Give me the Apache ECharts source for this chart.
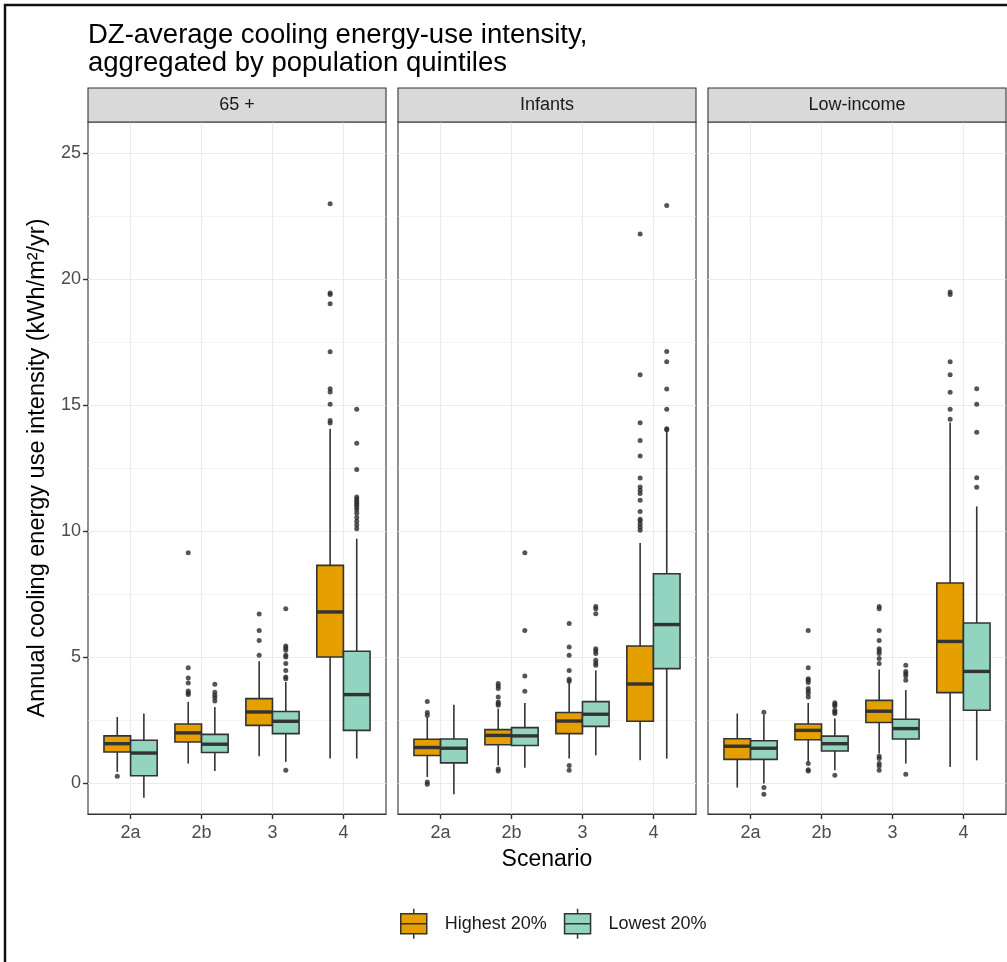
<!DOCTYPE html>
<html>
<head>
<meta charset="utf-8">
<script src="https://cdn.jsdelivr.net/npm/echarts@6/dist/echarts.min.js"></script>
<style>html,body{margin:0;padding:0;background:#fff;}#chart{width:1007px;height:962px;}</style>
</head>
<body>
<div id="chart"></div>
<script>
// ---------- DATA ----------
const categories = ['2a', '2b', '3', '4'];
const panels = ['65 +', 'Infants', 'Low-income'];
const groups = ['Highest 20%', 'Lowest 20%'];
const yTicks = [0, 5, 10, 15, 20, 25];
const xTicks = [1, 2, 3, 4];

// box stats per scenario: [lower whisker, Q1, median, Q3, upper whisker]
const age65High    = [[0.45, 1.24, 1.57, 1.88, 2.63], [0.78, 1.64, 2.00, 2.35, 3.23], [1.07, 2.30, 2.83, 3.36, 4.84], [0.98, 5.01, 6.80, 8.65, 14.07]];
const age65Low     = [[-0.57, 0.30, 1.20, 1.71, 2.77], [0.49, 1.22, 1.55, 1.94, 3.03], [0.85, 1.97, 2.46, 2.85, 4.02], [0.98, 2.10, 3.52, 5.24, 9.71]];
const infantsHigh  = [[0.25, 1.10, 1.42, 1.75, 2.63], [0.71, 1.53, 1.90, 2.13, 2.96], [0.98, 1.97, 2.47, 2.81, 4.02], [0.91, 2.46, 3.94, 5.45, 9.54]];
const infantsLow   = [[-0.44, 0.81, 1.39, 1.76, 3.12], [0.62, 1.50, 1.88, 2.21, 3.19], [1.11, 2.26, 2.74, 3.24, 4.48], [0.98, 4.55, 6.30, 8.32, 13.98]];
const lowIncHigh   = [[-0.17, 0.95, 1.47, 1.77, 2.77], [0.85, 1.73, 2.10, 2.35, 3.19], [1.18, 2.41, 2.86, 3.29, 4.52], [0.65, 3.60, 5.63, 7.95, 14.32]];
const lowIncLow    = [[-0.01, 0.95, 1.39, 1.69, 2.72], [0.52, 1.28, 1.57, 1.87, 2.57], [0.78, 1.76, 2.17, 2.54, 3.70], [0.91, 2.90, 4.44, 6.36, 10.99]];

// outliers per scenario
const age65HighOut   = [[0.28], [9.15, 4.59, 4.18, 3.98, 3.66, 3.58, 3.52], [6.72, 6.06, 5.67, 5.08], [23.0, 19.46, 19.40, 19.04, 17.13, 15.66, 15.53, 15.05, 14.40, 14.30]];
const age65LowOut    = [[], [3.93, 3.61, 3.49, 3.39, 3.27], [6.93, 5.45, 5.37, 5.28, 5.08, 5.01, 4.75, 4.48, 4.22, 4.15, 0.52], [14.85, 13.50, 12.46, 11.36, 11.28, 11.20, 11.12, 11.04, 10.95, 10.85, 10.72, 10.55, 10.40, 10.25, 10.10]];
const infantsHighOut = [[3.25, 2.81, 2.70, 0.05, -0.04], [3.96, 3.86, 3.76, 3.42, 3.23, 3.16, 3.10, 0.57, 0.49], [6.34, 5.41, 5.08, 4.48, 4.13, 4.05, 0.71, 0.52], [21.8, 16.22, 14.31, 13.61, 12.99, 12.12, 11.76, 11.63, 11.5, 11.23, 10.79, 10.48, 10.41, 10.28, 10.16, 10.04]];
const infantsLowOut  = [[], [9.15, 6.06, 4.26, 3.65], [7.02, 6.93, 6.73, 5.34, 5.25, 5.15, 4.88, 4.77, 4.68], [22.94, 17.14, 16.73, 15.65, 14.85, 14.07, 14.03]];
const lowIncHighOut  = [[], [6.06, 4.59, 4.15, 4.09, 4.0, 3.76, 3.66, 3.56, 3.42, 0.78, 0.54, 0.49], [7.02, 6.93, 6.06, 5.67, 5.34, 5.25, 5.15, 4.95, 4.75, 1.07, 0.98, 0.78, 0.69, 0.52], [19.5, 19.4, 16.73, 16.22, 15.52, 14.85, 14.45]];
const lowIncLowOut   = [[2.82, -0.17, -0.44], [3.20, 3.13, 3.07, 2.90, 2.83, 2.77, 0.32], [4.68, 4.44, 4.35, 4.26, 4.09, 0.36], [15.66, 15.05, 13.93, 12.13, 11.75]];

// ---------- LAYOUT / STYLE ----------
const FONT = "'Liberation Sans', Arial, sans-serif";
const colors = ['#E69F00', '#92D4BF'];
const dodge = [-0.1875, 0.1875];
const boxUnits = 0.375;
const panelLeft = [88, 398, 708];
const panelW = 298;
const panelTop = 122, panelH = 692;
const yMin = -1.22, yMax = 26.25;

const boxes = [[age65High, age65Low], [infantsHigh, infantsLow], [lowIncHigh, lowIncLow]];
const outs = [[age65HighOut, age65LowOut], [infantsHighOut, infantsLowOut], [lowIncHighOut, lowIncLowOut]];

function renderBox(params, api) {
  const x = api.value(0);
  const lo = api.coord([x, api.value(1)]);
  const q1 = api.coord([x, api.value(2)]);
  const md = api.coord([x, api.value(3)]);
  const q3 = api.coord([x, api.value(4)]);
  const hi = api.coord([x, api.value(5)]);
  const half = api.size([boxUnits, 0])[0] / 2;
  const fill = api.visual('color');
  const ln = { stroke: '#333333', lineWidth: 1.6 };
  return {
    type: 'group',
    children: [
      { type: 'line', shape: { x1: lo[0], y1: lo[1], x2: q1[0], y2: q1[1] }, style: ln },
      { type: 'line', shape: { x1: q3[0], y1: q3[1], x2: hi[0], y2: hi[1] }, style: ln },
      { type: 'rect', shape: { x: q3[0] - half, y: q3[1], width: half * 2, height: q1[1] - q3[1] }, style: { fill: fill, stroke: '#333333', lineWidth: 1.6 } },
      { type: 'line', shape: { x1: md[0] - half, y1: md[1], x2: md[0] + half, y2: md[1] }, style: { stroke: '#333333', lineWidth: 3.4 } }
    ]
  };
}

const grid = [], xAxis = [], yAxis = [], series = [], graphic = [];
panels.forEach(function (pname, p) {
  grid.push({ left: panelLeft[p], top: panelTop, width: panelW, height: panelH, show: true,
    borderColor: '#333333', borderWidth: 1.1, backgroundColor: '#ffffff', containLabel: false });
  xAxis.push({
    type: 'value', gridIndex: p, min: 0.4, max: 4.6, splitNumber: 4, position: 'bottom',
    axisLine: { show: true, onZero: false, lineStyle: { color: '#333333', width: 1.1 } },
    axisTick: { show: true, inside: false, length: 5, lineStyle: { color: '#333333', width: 1.4 }, customValues: xTicks },
    axisLabel: { show: true, customValues: xTicks, margin: 10, fontSize: 18, color: '#4d4d4d', fontFamily: FONT,
      formatter: function (v) { return categories[Math.round(v) - 1] || ''; } },
    splitLine: { show: true, lineStyle: { color: '#ebebeb', width: 1.1 } },
    name: p === 1 ? 'Scenario' : '', nameLocation: 'middle', nameGap: 34,
    nameTextStyle: { fontSize: 23, color: '#000000', fontFamily: FONT }
  });
  yAxis.push({
    type: 'value', gridIndex: p, min: yMin, max: yMax, splitNumber: 5,
    axisLine: { show: false, onZero: false },
    axisTick: { show: p === 0, inside: false, length: 5, lineStyle: { color: '#333333', width: 1.4 }, customValues: yTicks },
    axisLabel: { show: p === 0, customValues: yTicks, margin: 7, fontSize: 18, color: '#4d4d4d', fontFamily: FONT },
    splitLine: { show: true, lineStyle: { color: '#ebebeb', width: 1.1 } },
    minorTick: { show: false, splitNumber: 2 },
    minorSplitLine: { show: true, lineStyle: { color: '#ebebeb', width: 0.6 } },
    name: p === 0 ? 'Annual cooling energy use intensity (kWh/m\u00B2/yr)' : '',
    nameLocation: 'middle', nameGap: 38,
    nameTextStyle: { fontSize: 23.5, color: '#000000', fontFamily: FONT }
  });
  groups.forEach(function (g, gi) {
    series.push({
      type: 'custom', name: g, xAxisIndex: p, yAxisIndex: p,
      itemStyle: { color: colors[gi] },
      encode: { x: 0, y: [1, 2, 3, 4, 5] },
      renderItem: renderBox,
      data: boxes[p][gi].map(function (s, i) { return [i + 1 + dodge[gi]].concat(s); }),
      z: 2
    });
    const pts = [];
    outs[p][gi].forEach(function (arr, i) { arr.forEach(function (v) { pts.push([i + 1 + dodge[gi], v]); }); });
    series.push({
      type: 'scatter', name: g + ' outliers', xAxisIndex: p, yAxisIndex: p,
      symbol: 'circle', symbolSize: 5, itemStyle: { color: '#2b2b2b' },
      data: pts, z: 3, silent: true
    });
  });
  graphic.push({ type: 'rect', shape: { x: panelLeft[p], y: 88, width: panelW, height: panelTop - 88 },
    style: { fill: '#d9d9d9', stroke: '#333333', lineWidth: 1.1 }, z: 10 });
  graphic.push({ type: 'text', x: panelLeft[p] + panelW / 2, y: 105,
    style: { text: pname, fill: '#1a1a1a', font: '18px ' + FONT, textAlign: 'center', textVerticalAlign: 'middle' }, z: 11 });
});
graphic.push({ type: 'polyline', shape: { points: [[5, 970], [5, 5], [1012, 5]] },
  style: { stroke: '#111111', lineWidth: 2.5, fill: null }, z: 12 });

const iconPath = 'path://M14,0 L14,5 M1,5 L27,5 L27,25 L1,25 Z M1,15 L27,15 M14,25 L14,30';

const option = {
  backgroundColor: '#ffffff',
  animation: false,
  title: {
    text: 'DZ-average cooling energy-use intensity,\naggregated by population quintiles',
    left: 83, top: 16,
    textStyle: { fontSize: 27.5, lineHeight: 28, fontWeight: 'normal', color: '#000000', fontFamily: FONT }
  },
  legend: {
    left: 395, top: 903, itemWidth: 28, itemHeight: 30, itemGap: 17,
    textStyle: { fontSize: 18, color: '#1a1a1a', fontFamily: FONT, padding: [0, 0, 0, 12] },
    itemStyle: { borderColor: '#333333', borderWidth: 1.5 },
    data: groups.map(function (g, gi) { return { name: g, icon: iconPath, itemStyle: { color: colors[gi], borderColor: '#333333', borderWidth: 1.5 } }; })
  },
  grid: grid, xAxis: xAxis, yAxis: yAxis, series: series, graphic: graphic
};

const chart = echarts.init(document.getElementById('chart'), null, { renderer: 'canvas' });
chart.setOption(option);
</script>
</body>
</html>
